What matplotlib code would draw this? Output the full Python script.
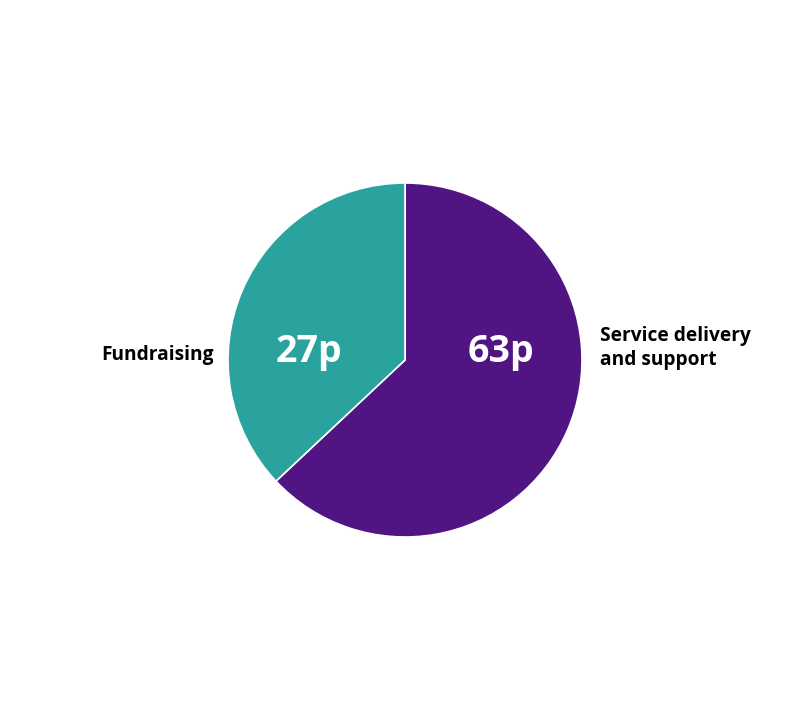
import matplotlib
matplotlib.use("Agg")
import matplotlib.pyplot as plt

# pence of every pound, share of the circle
categories = ["Service delivery\nand support", "Fundraising"]
shares = [63, 37]
value_labels = ["63p", "27p"]
colors = ["#501582", "#2AA39F"]

plt.rcParams['font.family'] = ['Open Sans', 'DejaVu Sans']

fig = plt.figure(figsize=(8.1, 7.2), dpi=100)
ax = fig.add_axes([0, 0, 1, 1])

wedges, _ = ax.pie(shares, colors=colors, startangle=90, counterclock=False,
                   radius=177, center=(405, 360), frame=True,
                   wedgeprops=dict(edgecolor="white", linewidth=1.2))
ax.set_xlim(0, 810)
ax.set_ylim(0, 720)
ax.set_aspect("equal")
ax.axis("off")

# values inside the slices
ax.text(501, 368, value_labels[0], color="white", fontsize=27, fontweight="bold",
        ha="center", va="center")
ax.text(309, 368, value_labels[1], color="white", fontsize=27, fontweight="bold",
        ha="center", va="center")

# category names outside
ax.text(600, 372, categories[0], color="black", fontsize=13.8, fontweight="bold",
        ha="left", va="center", linespacing=1.25)
ax.text(214, 365, categories[1], color="black", fontsize=13.8, fontweight="bold",
        ha="right", va="center")

fig.savefig("out.png", dpi=100)
